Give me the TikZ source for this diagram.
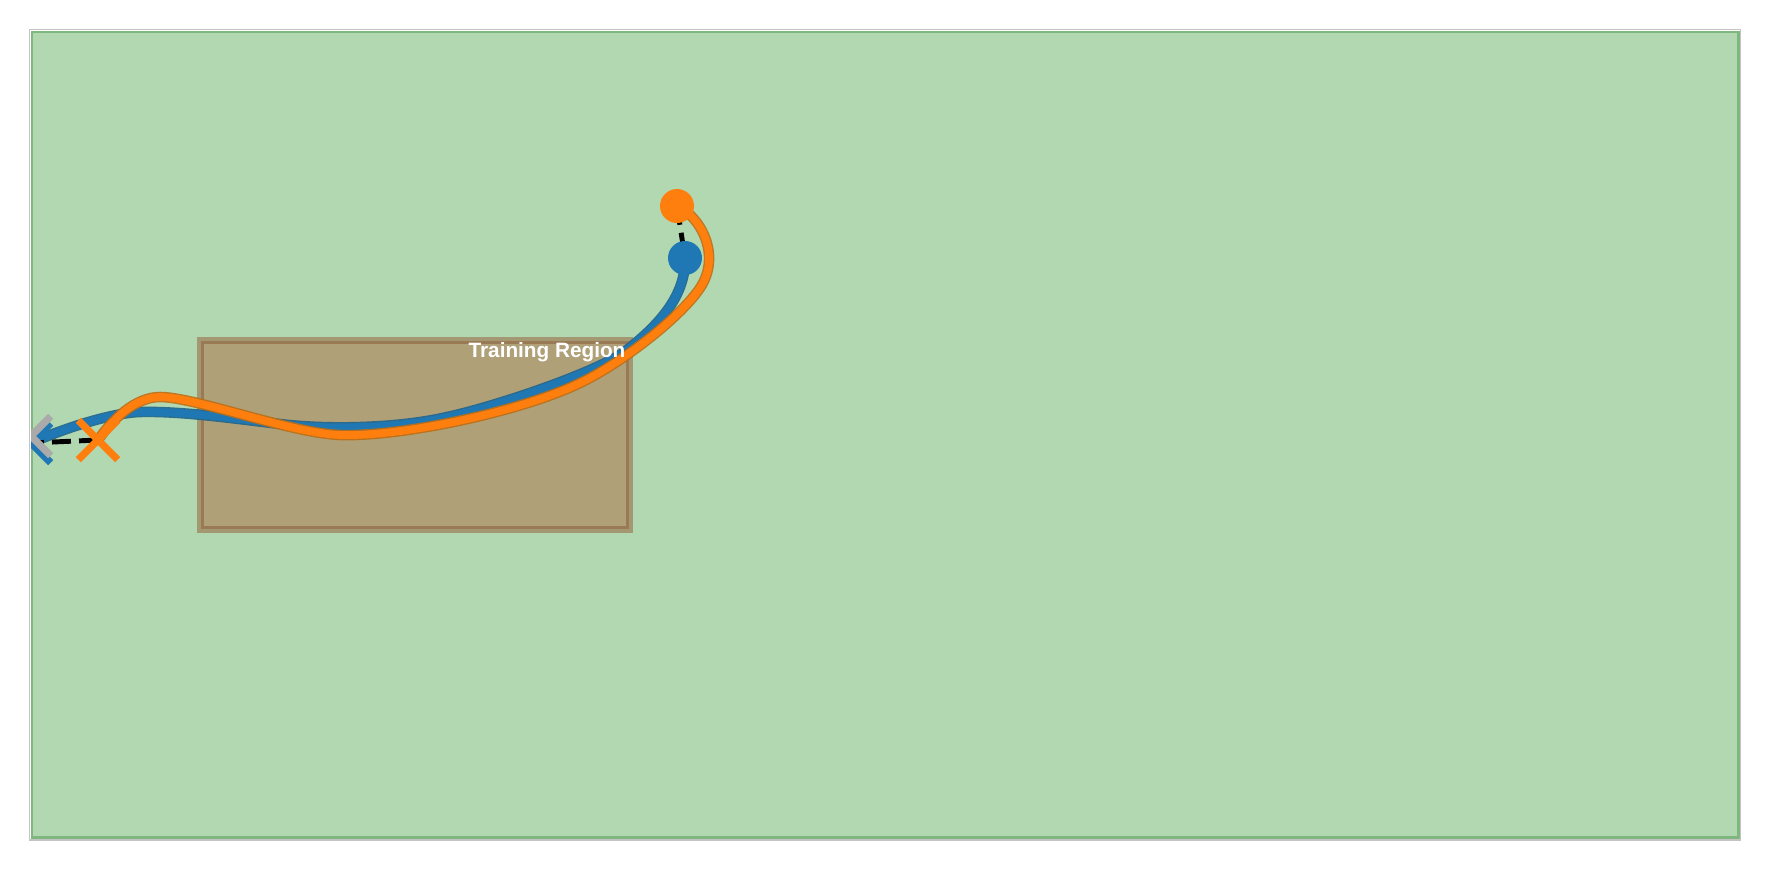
\documentclass[tikz,border=0pt]{standalone}
\usepackage{fontspec}
\setmainfont{Liberation Sans}
\usepackage{tikz}
\usetikzlibrary{shapes.misc}
\definecolor{fieldgreen}{RGB}{178, 216, 177}
\definecolor{fieldedge}{RGB}{127, 183, 126}
\definecolor{spinegray}{RGB}{196, 196, 196}
\definecolor{regionfill}{RGB}{176, 160, 120}
\definecolor{regionband}{RGB}{163, 152, 113}
\definecolor{regionedge}{RGB}{154, 122, 84}
\definecolor{trajblue}{RGB}{31, 119, 180}
\definecolor{trajblueedge}{RGB}{30, 100, 140}
\definecolor{trajorange}{RGB}{255, 127, 14}
\definecolor{trajorangeedge}{RGB}{190, 110, 20}
\definecolor{targetgray}{RGB}{170, 170, 170}

\begin{document}
\begin{tikzpicture}[
    x=0.01cm, y=-0.01cm,
    traj/.style={line width=2.2pt, line cap=round, line join=round},
    trajedge/.style={line width=3pt, line cap=round, line join=round, opacity=0.9},
    gap/.style={black, line width=1.4pt, dash pattern=on 5.4pt off 2.3pt},
    startdot/.style={circle, inner sep=0pt, minimum size=0.34cm},
    endcross/.style={cross out, draw, line width=2.1pt, inner sep=0pt, minimum size=0.32cm}
]
    \useasboundingbox (0,0) rectangle (1770,870);

    % Field
    \draw[spinegray, line width=0.45pt] (29.5,29.5) rectangle (1740.5,840);
    \filldraw[fill=fieldgreen, draw=fieldedge, line width=0.85pt] (32,32) rectangle (1738,837.5);

    % Training region
    \filldraw[fill=regionfill, draw=regionband, line width=1.3pt] (199,339) rectangle (631,531);
    \draw[regionedge, line width=0.8pt] (202.5,342.5) rectangle (627.5,527.5);

    % Start and end points
    \coordinate (blueStart) at (685,258);
    \coordinate (orangeStart) at (677,206);
    \coordinate (blueEnd) at (31,443);
    \coordinate (orangeEnd) at (98,440);
    \coordinate (goal) at (31,436);

    \begin{scope}
        \clip (31,31) rectangle (1739,838);
        % Blue trajectory
        \draw[trajedge, trajblueedge] (blueStart) .. controls (686,295) and (660,325) .. (623,353)
            .. controls (590,375) and (490,408) .. (447,417)
            .. controls (400,428) and (330,430) .. (280,424)
            .. controls (230,418) and (180,411) .. (140,412)
            .. controls (110,413) and (60,430) .. (blueEnd);
        \draw[traj, trajblue] (blueStart) .. controls (686,295) and (660,325) .. (623,353)
            .. controls (590,375) and (490,408) .. (447,417)
            .. controls (400,428) and (330,430) .. (280,424)
            .. controls (230,418) and (180,411) .. (140,412)
            .. controls (110,413) and (60,430) .. (blueEnd);

        % Orange trajectory
        \draw[trajedge, trajorangeedge] (orangeStart) .. controls (700,216) and (722,255) .. (700,288)
            .. controls (680,318) and (620,364) .. (580,383)
            .. controls (520,412) and (400,437) .. (340,435)
            .. controls (290,433) and (195,397) .. (160,397)
            .. controls (135,397) and (112,420) .. (orangeEnd);
        \draw[traj, trajorange] (orangeStart) .. controls (700,216) and (722,255) .. (700,288)
            .. controls (680,318) and (620,364) .. (580,383)
            .. controls (520,412) and (400,437) .. (340,435)
            .. controls (290,433) and (195,397) .. (160,397)
            .. controls (135,397) and (112,420) .. (orangeEnd);

        % Offsets between the two runs
        \draw[gap] (orangeStart) -- (blueStart);
        \draw[gap] (orangeEnd) -- (blueEnd);

        % End markers
        \node[endcross, draw=trajblue] (blueCross) at (blueEnd) {};
        \node[endcross, draw=targetgray] (goalCross) at (goal) {};
    \end{scope}

    \node[text=white, font=\fontsize{5.9}{7}\selectfont\bfseries] (regionlabel) at (547,352) {Training Region};

    % Start markers
    \node[startdot, fill=trajorange] (orangeDot) at (orangeStart) {};
    \node[startdot, fill=trajblue] (blueDot) at (blueStart) {};
    \node[endcross, draw=trajorange] (orangeCross) at (orangeEnd) {};
\end{tikzpicture}
\end{document}
